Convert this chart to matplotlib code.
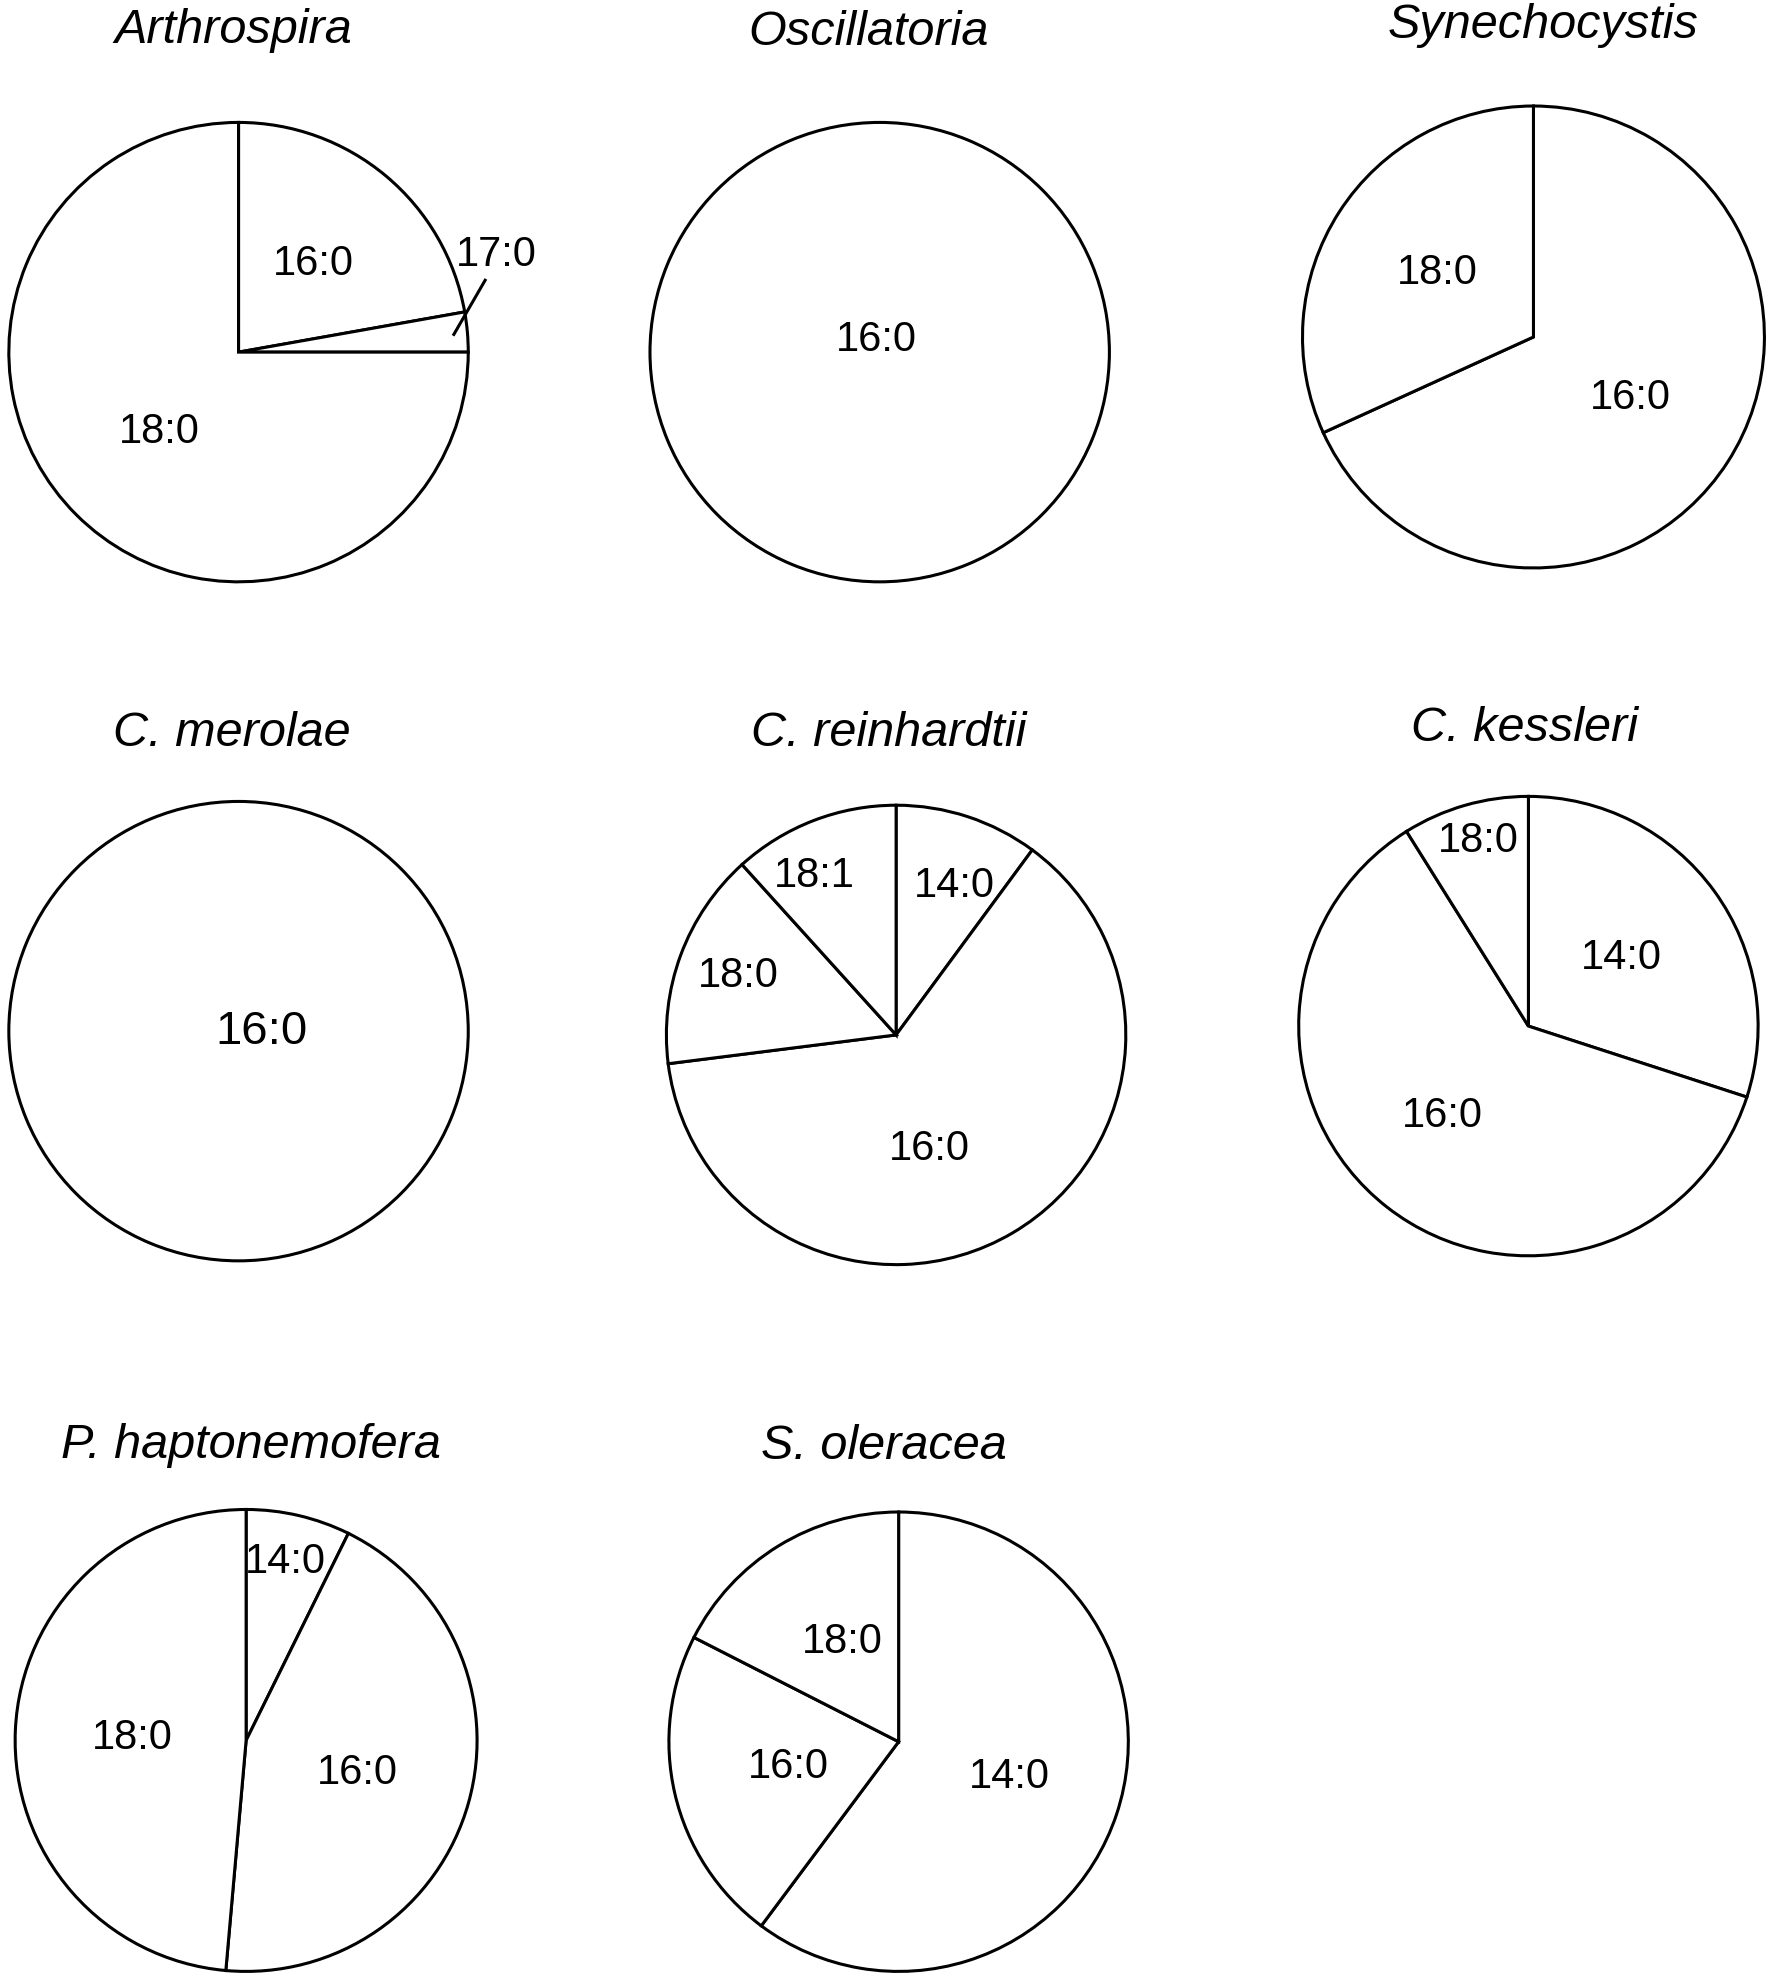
import matplotlib
matplotlib.use("Agg")
import matplotlib.pyplot as plt

plt.rcParams['font.family'] = ['Liberation Sans', 'DejaVu Sans']

# ---- data ----
species = ["Arthrospira", "Oscillatoria", "Synechocystis",
           "C. merolae", "C. reinhardtii", "C. kessleri",
           "P. haptonemofera", "S. oleracea"]
# fatty acids, listed clockwise from 12 o'clock
acids = [
    ["16:0", "17:0", "18:0"],
    ["16:0"],
    ["16:0", "18:0"],
    ["16:0"],
    ["14:0", "16:0", "18:0", "18:1"],
    ["14:0", "16:0", "18:0"],
    ["14:0", "16:0", "18:0"],
    ["14:0", "16:0", "18:0"],
]
percent = [
    [22.2, 2.8, 75.0],
    [100.0],
    [68.2, 31.8],
    [100.0],
    [10.1, 62.9, 15.3, 11.7],
    [30.0, 61.1, 8.9],
    [7.3, 44.1, 48.6],
    [60.2, 22.3, 17.5],
]

# ---- layout (pixels in a 1404-wide frame, scaled to output) ----
W, H = 1772, 1976
S = W / 1404.0
centers = [(189, 279), (697, 279), (1215, 267),
           (189, 817), (710, 820), (1211, 813),
           (195, 1379), (712, 1380)]
radii = [182, 182, 183, 182, 182, 182, 183, 182]
title_pos = [(185, 34), (688, 36), (1223, 30),
             (184, 591), (704, 591), (1208, 587),
             (199, 1155), (700, 1156)]
label_pos = [
    [(248, 209), (393, 202), (126, 342)],
    [(694, 269)],
    [(1292, 315), (1139, 216)],
    [(207, 818)],
    [(756, 702), (736, 910), (585, 773), (645, 694)],
    [(1285, 759), (1143, 884), (1171, 666)],
    [(226, 1238), (283, 1405), (105, 1377)],
    [(800, 1408), (625, 1400), (667, 1301)],
]
label_size = [30, 30, 30, 34, 30, 30, 30, 30]

fig = plt.figure(figsize=(W / 100, H / 100), dpi=100)
fig.patch.set_facecolor('white')

PAD = 1.1
for i, name in enumerate(species):
    cx, cy = centers[i][0] * S, centers[i][1] * S
    r = radii[i] * S
    ax = fig.add_axes([(cx - PAD * r) / W, 1 - (cy + PAD * r) / H,
                       2 * PAD * r / W, 2 * PAD * r / H])
    ax.pie(percent[i], startangle=90, counterclock=False,
           colors=['white'] * len(percent[i]), radius=1,
           wedgeprops=dict(edgecolor='black', linewidth=2.2))
    ax.set_xlim(-PAD, PAD)
    ax.set_ylim(-PAD, PAD)
    ax.set_aspect('equal')
    ax.axis('off')
    for lab, (lx, ly) in zip(acids[i], label_pos[i]):
        dx = (lx * S - cx) / r
        dy = (cy - ly * S) / r
        ax.text(dx, dy, lab, ha='center', va='center',
                fontsize=label_size[i], clip_on=False)
    if i == 0:
        # leader line for the small 17:0 slice
        x0, y0 = (359 * S - cx) / r, (cy - 266 * S) / r
        x1, y1 = (385 * S - cx) / r, (cy - 221 * S) / r
        ax.plot([x0, x1], [y0, y1], color='black', lw=2.2,
                solid_capstyle='butt', clip_on=False)
    tx, ty = title_pos[i]
    fig.text(tx * S / W, 1 - ty * S / H, name, ha='center',
             va='baseline', fontsize=35, style='italic')

fig.savefig('out.png', dpi=100, facecolor='white')
